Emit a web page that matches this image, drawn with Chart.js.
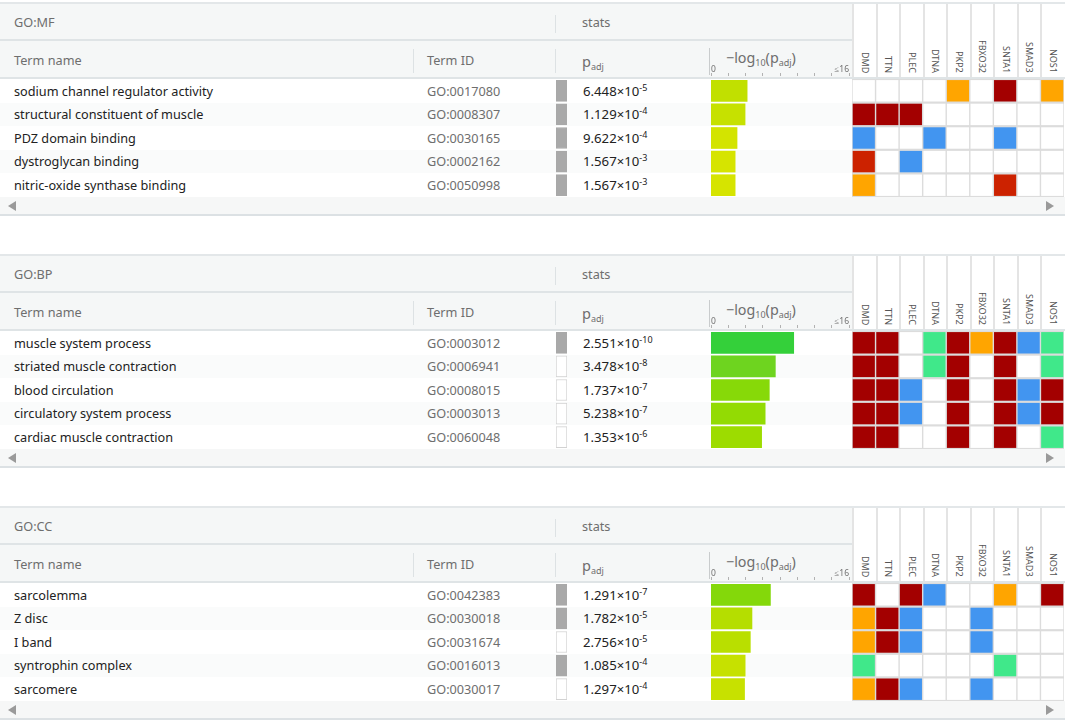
<!DOCTYPE html>
<html><head><meta charset="utf-8">
<script src="https://cdn.jsdelivr.net/npm/chart.js@4.4.1/dist/chart.umd.min.js"></script>
<style>
html,body{margin:0;padding:0}
body{width:1065px;height:722px;overflow:hidden;background:#fff;font-family:"Noto Sans",sans-serif;position:relative}
.a{position:absolute;white-space:nowrap}
.t{font-size:12.7px;line-height:16px;color:#222}
.p{font-size:13.2px;line-height:16px;color:#222}
.h{font-size:12.7px;line-height:16px;color:#6e6e6e}
sup{font-size:9px;vertical-align:0;position:relative;top:-5px}
sub{font-size:9px;vertical-align:0;position:relative;top:3px}
canvas{position:absolute;display:block}
</style></head><body>
<script>
// ---------- DATA ----------
const genes = ["DMD","TTN","PLEC","DTNA","PKP2","FBXO32","SNTA1","SMAD3","NOS1"];

const mfTerms = ["sodium channel regulator activity","structural constituent of muscle","PDZ domain binding","dystroglycan binding","nitric-oxide synthase binding"];
const mfIds = ["GO:0017080","GO:0008307","GO:0030165","GO:0002162","GO:0050998"];
const mfPadjMant = ["6.448","1.129","9.622","1.567","1.567"];
const mfPadjExp = ["-5","-4","-4","-3","-3"];
const mfNegLog = [4.19,3.95,3.02,2.80,2.80];
const mfDriver = [1,1,1,1,1];
const mfMatrix = [
  [0,0,0,0,3,0,1,0,3],
  [1,1,1,0,0,0,0,0,0],
  [4,0,0,4,0,0,4,0,0],
  [2,0,4,0,0,0,0,0,0],
  [3,0,0,0,0,0,2,0,0]
];

const bpTerms = ["muscle system process","striated muscle contraction","blood circulation","circulatory system process","cardiac muscle contraction"];
const bpIds = ["GO:0003012","GO:0006941","GO:0008015","GO:0003013","GO:0060048"];
const bpPadjMant = ["2.551","3.478","1.737","5.238","1.353"];
const bpPadjExp = ["-10","-8","-7","-7","-6"];
const bpNegLog = [9.59,7.46,6.76,6.28,5.87];
const bpDriver = [1,0,0,0,0];
const bpMatrix = [
  [1,1,0,5,1,3,1,4,5],
  [1,1,0,5,1,0,1,0,5],
  [1,1,4,0,1,0,1,4,1],
  [1,1,4,0,1,0,1,4,1],
  [1,1,0,0,1,0,1,0,5]
];

const ccTerms = ["sarcolemma","Z disc","I band","syntrophin complex","sarcomere"];
const ccIds = ["GO:0042383","GO:0030018","GO:0031674","GO:0016013","GO:0030017"];
const ccPadjMant = ["1.291","1.782","2.756","1.085","1.297"];
const ccPadjExp = ["-7","-5","-5","-4","-4"];
const ccNegLog = [6.89,4.75,4.56,3.96,3.89];
const ccDriver = [1,1,0,1,0];
const ccMatrix = [
  [1,0,1,4,0,0,3,0,1],
  [3,1,4,0,0,4,0,0,0],
  [3,1,4,0,0,4,0,0,0],
  [5,0,0,0,0,0,5,0,0],
  [3,1,4,0,0,4,0,0,0]
];

const sources = ["GO:MF","GO:BP","GO:CC"];
const axisMax = 16;

// ---------- STYLE ----------
const cellColors = ["#ffffff","#a30000","#cc2200","#ffa500","#4295f0","#40e88a"];
const barStops = [[2.5,[218,229,0]],[4,[197,225,0]],[4.7,[182,222,0]],[6,[154,220,0]],[6.9,[132,216,10]],[7.5,[108,212,32]],[9.6,[52,208,58]],[16,[20,160,60]]];
function barColor(v){
  if (v<=barStops[0][0]) return `rgb(${barStops[0][1].join(',')})`;
  for (let i=1;i<barStops.length;i++){
    if (v<=barStops[i][0]){
      const [a,ca]=barStops[i-1],[b,cb]=barStops[i];const f=(v-a)/(b-a);
      return `rgb(${ca.map((c,k)=>Math.round(c+(cb[k]-c)*f)).join(',')})`;
    }
  }
  return `rgb(${barStops[barStops.length-1][1].join(',')})`;
}
const HDR_BG = "#f5f7f7", LINE = "#dfe4e6";
const ROW_H = 23.5, HM_X = 852, HM_COL = 23.5;
const noUi = {legend:{display:false},tooltip:{enabled:false}};

function el(tag, cls, css, html){
  const d=document.createElement(tag); if(cls) d.className=cls;
  Object.assign(d.style, css||{}); if(html!==undefined) d.innerHTML=html;
  document.body.appendChild(d); return d;
}
function box(l,t,w,h,bg){ return el('div','a',{left:l+'px',top:t+'px',width:w+'px',height:h+'px',background:bg}); }
function text(l,cy,html,cls,extra){ return el('div','a '+cls,Object.assign({left:l+'px',top:(cy-8)+'px'},extra||{}),html); }
function canvas(l,t,w,h,bg){
  const c = el('canvas',null,{left:l+'px',top:t+'px',width:w+'px',height:h+'px',background:bg||'transparent'});
  c.width=w; c.height=h; return c;
}

function panel(T, src, terms, ids, mant, exp, negLog, driver, matrix){
  // frame
  box(0,T-1,1065,2,"#e3e7e9");
  box(0,T+1,HM_X,35,HDR_BG);
  box(0,T+36,HM_X,2,LINE);
  box(0,T+38,HM_X,36,HDR_BG);
  box(0,T+74,1065,2,LINE);
  // gene header
  genes.forEach((g,j)=>{
    const x = HM_X + j*HM_COL;
    box(x,T+1,2,73,"#e4e4e4");
    el('div','a',{left:(x+2)+'px',top:(T+6)+'px',width:(HM_COL-2)+'px',height:'64px',
      display:'flex',alignItems:'flex-end',justifyContent:'center'},
      `<span style="writing-mode:vertical-rl;font-size:9px;line-height:10px;color:#555">${g}</span>`);
  });
  // header texts
  text(14,T+19,src,'h');
  box(555,T+12,1,18,"#dde2e4");
  text(582,T+19,'stats','h');
  text(14,T+57,'Term name','h');
  box(413,T+46,1,24,"#dde2e4");
  text(427,T+57,'Term ID','h');
  box(555,T+46,1,24,"#dde2e4");
  text(582,T+58,'<span style="font-size:14.5px">p</span><sub>adj</sub>','h');
  box(709,T+45,1,27,"#c9cccd");
  text(726,T+55,'<span style="font-size:14.3px">−log</span><sub>10</sub><span style="font-size:14.3px">(p</span><sub>adj</sub><span style="font-size:14.3px">)</span>','h');
  // rows
  terms.forEach((name,i)=>{
    const top = T+76+i*ROW_H;
    if (i%2===1) box(0,top,HM_X,ROW_H,"#fafbfb");
    const cy = top+ROW_H/2;
    text(14,cy,name,'t');
    text(427,cy,ids[i],'h');
    text(583,cy,`${mant[i]}×10<sup>${exp[i]}</sup>`,'p');
  });
  // scroll row
  box(0,T+194,1065,17,"#f6f7f7");
  box(0,T+211,1065,2,"#dce1e4");
  el('div','a',{left:'8px',top:(T+198)+'px',width:0,height:0,borderTop:'5px solid transparent',borderBottom:'5px solid transparent',borderRight:'8px solid #9a9a9a'});
  el('div','a',{left:'1046px',top:(T+198)+'px',width:0,height:0,borderTop:'5px solid transparent',borderBottom:'5px solid transparent',borderLeft:'8px solid #9a9a9a'});

  // ---- indicator column ----
  new Chart(canvas(556,T+76,11,118),{type:'bar',data:{labels:terms,datasets:[{
      data: driver.map(()=>[0,1]),
      backgroundColor: driver.map(d=>d?'#a9a9a9':'#ffffff'),
      borderColor: driver.map(d=>d?'#a9a9a9':'#d2d2d2'),
      borderWidth:1,borderSkipped:false,barThickness:21}]},
    options:{responsive:false,animation:false,indexAxis:'y',plugins:noUi,layout:{padding:0},
      scales:{x:{type:'linear',min:0,max:1,display:false},
              y:{type:'category',display:false}}}});

  // ---- -log10 axis (header) ----
  new Chart(canvas(709,T+44,143,30),{type:'bar',data:{labels:[],datasets:[]},
    options:{responsive:false,animation:false,indexAxis:'y',plugins:noUi,
      layout:{padding:{left:2,right:3,top:0,bottom:0}},
      scales:{
        x:{type:'linear',position:'top',min:0,max:axisMax,
           afterFit:(s)=>{s.height=29;},
           ticks:{stepSize:2,autoSkip:false,align:'inner',padding:-2,maxRotation:0,color:'#707070',
                  font:{size:8.5,family:'Noto Sans'},
                  callback:(v)=>v===0?'0':(v===axisMax?'≤'+axisMax:'')},
           grid:{drawOnChartArea:false,drawTicks:true,tickLength:3,color:'#b2b2b2'},
           border:{display:false}},
        y:{type:'category',display:false}}}});

  // ---- -log10 bars ----
  new Chart(canvas(709,T+76,143,118),{type:'bar',data:{labels:terms,datasets:[{
      data: negLog,
      backgroundColor: negLog.map(barColor),
      borderWidth:0,barThickness:21}]},
    options:{responsive:false,animation:false,indexAxis:'y',plugins:noUi,
      layout:{padding:{left:2,right:3,top:0,bottom:0}},
      scales:{x:{type:'linear',min:0,max:axisMax,display:false},
              y:{type:'category',display:false}}}});

  // ---- gene heatmap ----
  new Chart(canvas(HM_X,T+76,212,118,'#dcdcdc'),{type:'bar',data:{labels:genes,datasets:matrix.map((row,r)=>({
      data: row.map(()=>[r+0.06,r+0.94]),
      backgroundColor: row.map(c=>cellColors[c]),
      borderWidth:0,barThickness:21.5}))},
    options:{responsive:false,animation:false,plugins:noUi,layout:{padding:0},
      scales:{x:{type:'category',stacked:true,display:false},
              y:{type:'linear',min:0,max:5,reverse:true,stacked:false,display:false}}}});
}

panel(3, sources[0], mfTerms, mfIds, mfPadjMant, mfPadjExp, mfNegLog, mfDriver, mfMatrix);
panel(255, sources[1], bpTerms, bpIds, bpPadjMant, bpPadjExp, bpNegLog, bpDriver, bpMatrix);
panel(507, sources[2], ccTerms, ccIds, ccPadjMant, ccPadjExp, ccNegLog, ccDriver, ccMatrix);
</script>
</body></html>
